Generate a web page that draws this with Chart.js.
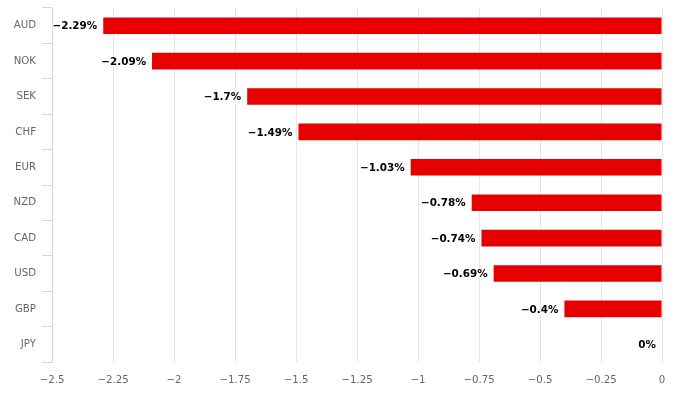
<!DOCTYPE html>
<html>
<head>
<meta charset="utf-8">
<script src="https://cdn.jsdelivr.net/npm/chart.js@4"></script>
<style>
    html, body { margin: 0; padding: 0; background: #fff; }
    #wrap { width: 685px; height: 396px; }
</style>
</head>
<body>
<div id="wrap"><canvas id="fxChart" width="685" height="396"></canvas></div>
<script>
// currencies and their change in percent
const currencies = ["AUD", "NOK", "SEK", "CHF", "EUR", "NZD", "CAD", "USD", "GBP", "JPY"];
const changes = [-2.29, -2.09, -1.7, -1.49, -1.03, -0.78, -0.74, -0.69, -0.4, 0];
const xTicks = [-2.5, -2.25, -2, -1.75, -1.5, -1.25, -1, -0.75, -0.5, -0.25, 0];

const FONT = "'DejaVu Sans', Verdana, sans-serif";

function minus( v ) {
    return String( v ).replace( "-", "\u2212" );
}

// value labels at the left end of each bar
const barLabels = {
    id: "barLabels",
    afterDatasetsDraw( chart ) {
        const ctx = chart.ctx;
        const meta = chart.getDatasetMeta( 0 );
        ctx.save();
        ctx.font = "bold 10.4px " + FONT;
        ctx.fillStyle = "#000";
        ctx.textAlign = "right";
        ctx.textBaseline = "middle";
        meta.data.forEach( ( bar, i ) => {
            const text = minus( changes[i] ) + "%";
            ctx.lineWidth = 2;
            ctx.strokeStyle = "#fff";
            ctx.strokeText( text, bar.x - 6, bar.y + 1 );
            ctx.fillText( text, bar.x - 6, bar.y + 1 );
        } );
        ctx.restore();
    }
};

new Chart( document.getElementById( "fxChart" ), {
    type: "bar",
    data: {
        labels: currencies,
        datasets: [{
            data: changes,
            backgroundColor: "#e60000",
            borderWidth: 0,
            categoryPercentage: 1,
            barPercentage: 0.47
        }]
    },
    options: {
        indexAxis: "y",
        responsive: false,
        animation: false,
        layout: { padding: { top: 8, right: 23, left: 0, bottom: 0 } },
        plugins: {
            legend: { display: false },
            tooltip: { enabled: false }
        },
        scales: {
            x: {
                min: -2.5,
                max: 0,
                afterBuildTicks( scale ) {
                    scale.ticks = xTicks.map( v => ( { value: v } ) );
                },
                afterFit( scale ) { scale.height = 34; },
                grid: { color: "#e6e6e6", drawTicks: false },
                border: { display: false },
                ticks: {
                    padding: 12,
                    color: "#666",
                    font: { family: FONT, size: 10.2 },
                    maxRotation: 0,
                    callback: v => minus( v )
                }
            },
            y: {
                afterFit( scale ) {
                    scale.width = 52;
                    scale.paddingTop = 0;
                    scale.paddingBottom = 0;
                },
                grid: {
                    offset: true,
                    drawOnChartArea: false,
                    drawTicks: true,
                    tickLength: 10,
                    color: "#ccd6eb"
                },
                border: { color: "#ccd6eb" },
                ticks: {
                    padding: 6,
                    color: "#666",
                    font: { family: FONT, size: 10.2 }
                }
            }
        }
    },
    plugins: [barLabels]
} );
</script>
</body>
</html>
